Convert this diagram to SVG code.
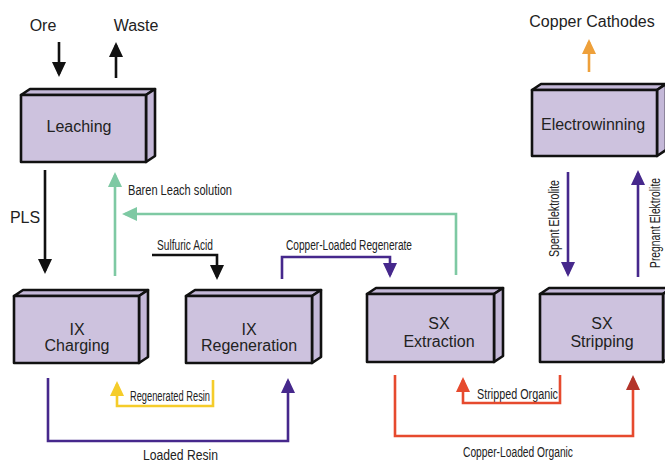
<svg xmlns="http://www.w3.org/2000/svg" width="665" height="462" viewBox="0 0 665 462">
<style>
.box{fill:#cdc2de;stroke:#111;stroke-width:2.6;stroke-linejoin:round}
.side{fill:#c4b8d8;stroke:#111;stroke-width:2.6;stroke-linejoin:round}
.t{font-family:"Liberation Sans",Arial,sans-serif;font-size:16px;fill:#222;text-anchor:middle}
.s{font-family:"Liberation Sans Narrow","Liberation Sans",Arial,sans-serif;font-size:14px;fill:#222}
.c{fill:none;stroke-width:2.6}
.k{stroke:#111}.g{stroke:#7ec9a3}.p{stroke:#46288c}.y{stroke:#f5cc2a}.o{stroke:#eea03a}.r{stroke:#e64a2e}
</style>
<defs>
<marker id="ak" viewBox="0 0 15 14" refX="12" refY="7" markerWidth="15" markerHeight="14" markerUnits="userSpaceOnUse" orient="auto"><path d="M0,0L15,7L0,14z" fill="#111"/></marker>
<marker id="ag" viewBox="0 0 15 14" refX="12" refY="7" markerWidth="15" markerHeight="14" markerUnits="userSpaceOnUse" orient="auto"><path d="M0,0L15,7L0,14z" fill="#7ec9a3"/></marker>
<marker id="ap" viewBox="0 0 15 14" refX="12" refY="7" markerWidth="15" markerHeight="14" markerUnits="userSpaceOnUse" orient="auto"><path d="M0,0L15,7L0,14z" fill="#46288c"/></marker>
<marker id="ay" viewBox="0 0 15 14" refX="12" refY="7" markerWidth="15" markerHeight="14" markerUnits="userSpaceOnUse" orient="auto"><path d="M0,0L15,7L0,14z" fill="#f5cc2a"/></marker>
<marker id="ao" viewBox="0 0 15 14" refX="12" refY="7" markerWidth="15" markerHeight="14" markerUnits="userSpaceOnUse" orient="auto"><path d="M0,0L15,7L0,14z" fill="#eea03a"/></marker>
<marker id="ar" viewBox="0 0 15 14" refX="12" refY="7" markerWidth="15" markerHeight="14" markerUnits="userSpaceOnUse" orient="auto"><path d="M0,0L15,7L0,14z" fill="#e64a2e"/></marker>
<marker id="ad" viewBox="0 0 15 14" refX="12" refY="7" markerWidth="15" markerHeight="14" markerUnits="userSpaceOnUse" orient="auto"><path d="M0,0L15,7L0,14z" fill="#b3342a"/></marker>
</defs>

<g id="leaching">
<polygon class="side" points="21,95 30,89 155,89 146,95"/>
<polygon class="side" points="146,95 155,89 155,156 146,162"/>
<rect class="box" x="21" y="95" width="125" height="67"/>
<text class="t" x="79" y="132">Leaching</text>
</g>
<g id="ix-charging">
<polygon class="side" points="14,296 23,290 148,290 139,296"/>
<polygon class="side" points="139,296 148,290 148,357 139,363"/>
<rect class="box" x="14" y="296" width="125" height="67"/>
<text class="t" x="77" y="335">IX</text>
<text class="t" x="77" y="351">Charging</text>
</g>
<g id="ix-regeneration">
<polygon class="side" points="186,296 195,290 321,290 312,296"/>
<polygon class="side" points="312,296 321,290 321,357 312,363"/>
<rect class="box" x="186" y="296" width="126" height="67"/>
<text class="t" x="249" y="335">IX</text>
<text class="t" x="249" y="351">Regeneration</text>
</g>
<g id="sx-extraction">
<polygon class="side" points="367,294 376,288 503,288 494,294"/>
<polygon class="side" points="494,294 503,288 503,356 494,362"/>
<rect class="box" x="367" y="294" width="127" height="68"/>
<text class="t" x="439" y="329">SX</text>
<text class="t" x="439" y="347">Extraction</text>
</g>
<g id="sx-stripping">
<polygon class="side" points="540,294 549,288 672,288 663,294"/>
<polygon class="side" points="663,294 672,288 672,356 663,362"/>
<rect class="box" x="540" y="294" width="123" height="68"/>
<text class="t" x="602" y="329">SX</text>
<text class="t" x="602" y="347">Stripping</text>
</g>
<g id="electrowinning">
<polygon class="side" points="532,90 541,84 666,84 657,90"/>
<polygon class="side" points="657,90 666,84 666,150 657,156"/>
<rect class="box" x="532" y="90" width="125" height="66"/>
<text class="t" x="593" y="130">Electrowinning</text>
</g>

<g id="labels">
<text class="t" x="43" y="31">Ore</text>
<text class="t" x="136" y="31">Waste</text>
<text class="t" x="592" y="27">Copper Cathodes</text>
<text class="t" x="25" y="223">PLS</text>
<text class="s" x="128" y="195" textLength="104" lengthAdjust="spacingAndGlyphs">Baren Leach solution</text>
<text class="s" x="157" y="250" textLength="56" lengthAdjust="spacingAndGlyphs">Sulfuric Acid</text>
<text class="s" x="286" y="250" textLength="126" lengthAdjust="spacingAndGlyphs">Copper-Loaded Regenerate</text>
<text class="s" x="130" y="401" textLength="80" lengthAdjust="spacingAndGlyphs">Regenerated Resin</text>
<text class="s" x="143" y="460" textLength="75" lengthAdjust="spacingAndGlyphs">Loaded Resin</text>
<text class="s" x="477" y="399" textLength="81" lengthAdjust="spacingAndGlyphs">Stripped Organic</text>
<text class="s" x="463" y="457" textLength="110" lengthAdjust="spacingAndGlyphs">Copper-Loaded Organic</text>
<text class="s" transform="translate(559,257) rotate(-90)" x="0" y="0" textLength="77" lengthAdjust="spacingAndGlyphs">Spent Elektrolite</text>
<text class="s" transform="translate(660,268) rotate(-90)" x="0" y="0" textLength="90" lengthAdjust="spacingAndGlyphs">Pregnant Elektrolite</text>
</g>

<g id="connectors">
<path class="c k" d="M59,42V74" marker-end="url(#ak)"/>
<path class="c k" d="M116,78V45" marker-end="url(#ak)"/>
<path class="c o" d="M589,72V42" marker-end="url(#ao)"/>
<path class="c k" d="M45,170V271" marker-end="url(#ak)"/>
<path class="c g" d="M115,276V175" marker-end="url(#ag)"/>
<path class="c g" d="M456,275V214H125" marker-end="url(#ag)"/>
<path class="c k" d="M152,255H217V277" marker-end="url(#ak)"/>
<path class="c p" d="M282,279V257H390V275" marker-end="url(#ap)"/>
<path class="c p" d="M568,172V274" marker-end="url(#ap)"/>
<path class="c p" d="M638,277V173" marker-end="url(#ap)"/>
<path class="c p" d="M48,378V441H288V381" marker-end="url(#ap)"/>
<path class="c y" d="M213,380V406H117V384" marker-end="url(#ay)"/>
<path class="c r" d="M395,375V436H633V378" marker-end="url(#ad)"/>
<path class="c r" d="M560,375V403H463V380" marker-end="url(#ar)"/>
</g>
</svg>
